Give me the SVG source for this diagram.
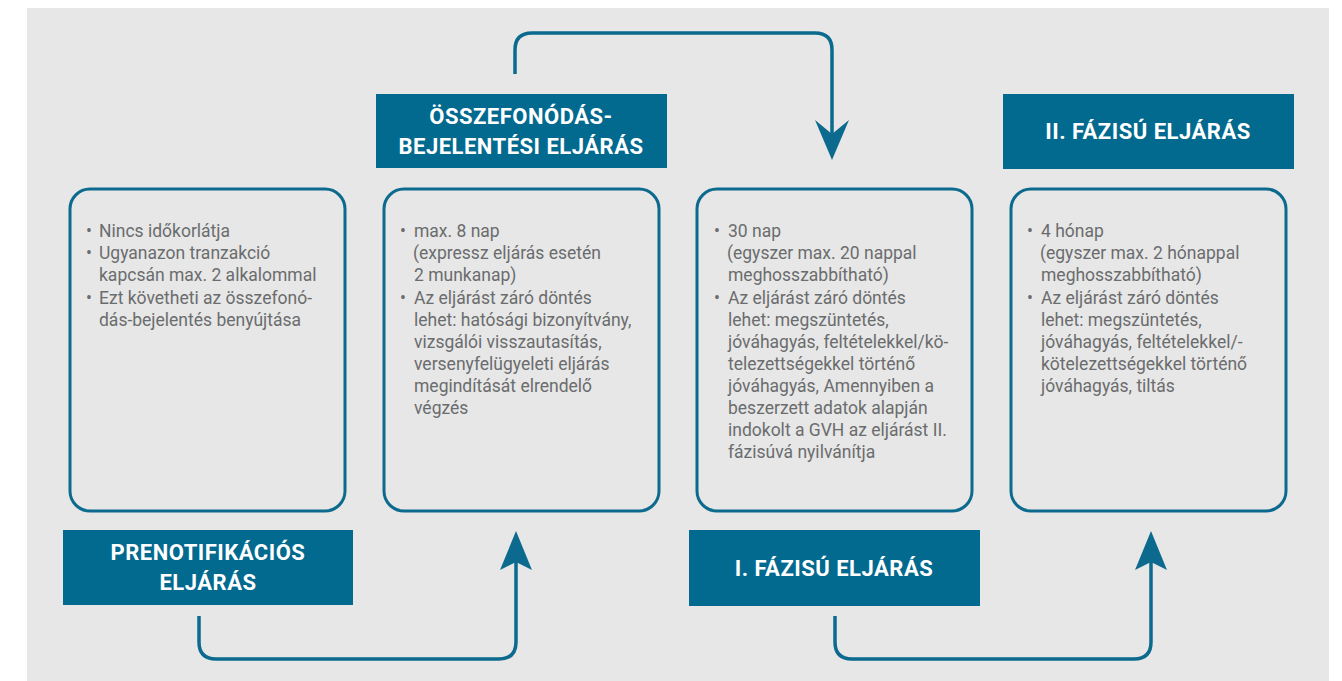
<svg xmlns="http://www.w3.org/2000/svg" width="1342" height="681" viewBox="0 0 1342 681">
<style>
.bg{fill:#e6e7e6}
.box{fill:none;stroke:#0b6a8e;stroke-width:3}
.hdr{fill:#02698f}
.ht{font-family:Roboto,"Liberation Sans",sans-serif;font-weight:700;font-size:22px;letter-spacing:0.5px;fill:#ffffff;text-anchor:middle}
.bt{font-family:Roboto,"Liberation Sans",sans-serif;font-size:17.5px;fill:#6b6c6e}
.con{fill:none;stroke:#0b6a8e;stroke-width:3.5}
.ah{fill:#0b6a8e}
</style>
<rect class="bg" x="27" y="8" width="1302" height="673"/>

<g id="node-prenotif">
<rect class="box" x="70" y="189" width="275" height="322" rx="20"/>
<text class="bt"><tspan x="86" y="237">•</tspan><tspan x="99" y="237">Nincs időkorlátja</tspan><tspan x="86" y="259">•</tspan><tspan x="99" y="259">Ugyanazon tranzakció</tspan><tspan x="99" y="281">kapcsán max. 2 alkalommal</tspan><tspan x="86" y="304">•</tspan><tspan x="99" y="304">Ezt követheti az összefonó-</tspan><tspan x="99" y="326">dás-bejelentés benyújtása</tspan></text>
<rect class="hdr" x="63" y="530" width="290" height="75"/>
<text class="ht"><tspan x="208" y="560">PRENOTIFIKÁCIÓS</tspan><tspan x="208" y="590">ELJÁRÁS</tspan></text>
</g>

<g id="node-osszefonodas">
<rect class="hdr" x="376" y="94" width="291" height="74"/>
<text class="ht"><tspan x="521" y="124">ÖSSZEFONÓDÁS-</tspan><tspan x="521" y="154">BEJELENTÉSI ELJÁRÁS</tspan></text>
<rect class="box" x="384" y="189" width="275" height="322" rx="20"/>
<text class="bt"><tspan x="400" y="237">•</tspan><tspan x="414" y="237">max. 8 nap</tspan><tspan x="413" y="259">(expressz eljárás esetén</tspan><tspan x="414" y="281">2 munkanap)</tspan><tspan x="400" y="304">•</tspan><tspan x="414" y="304">Az eljárást záró döntés</tspan><tspan x="414" y="326">lehet: hatósági bizonyítvány,</tspan><tspan x="414" y="348">vizsgálói visszautasítás,</tspan><tspan x="414" y="370">versenyfelügyeleti eljárás</tspan><tspan x="414" y="392">megindítását elrendelő</tspan><tspan x="414" y="414">végzés</tspan></text>
</g>

<g id="node-fazis1">
<rect class="box" x="697" y="189" width="275" height="322" rx="20"/>
<text class="bt"><tspan x="714" y="237">•</tspan><tspan x="728" y="237">30 nap</tspan><tspan x="727" y="259">(egyszer max. 20 nappal</tspan><tspan x="728" y="281">meghosszabbítható)</tspan><tspan x="714" y="304">•</tspan><tspan x="728" y="304">Az eljárást záró döntés</tspan><tspan x="728" y="326">lehet: megszüntetés,</tspan><tspan x="728" y="348">jóváhagyás, feltételekkel/kö-</tspan><tspan x="728" y="370">telezettségekkel történő</tspan><tspan x="728" y="392">jóváhagyás, Amennyiben a</tspan><tspan x="728" y="414">beszerzett adatok alapján</tspan><tspan x="728" y="436">indokolt a GVH az eljárást II.</tspan><tspan x="728" y="458">fázisúvá nyilvánítja</tspan></text>
<rect class="hdr" x="689" y="530" width="291" height="76"/>
<text class="ht"><tspan x="834" y="576">I. FÁZISÚ ELJÁRÁS</tspan></text>
</g>

<g id="node-fazis2">
<rect class="hdr" x="1003" y="94" width="291" height="75"/>
<text class="ht"><tspan x="1148" y="139">II. FÁZISÚ ELJÁRÁS</tspan></text>
<rect class="box" x="1011" y="189" width="275" height="322" rx="20"/>
<text class="bt"><tspan x="1027" y="237">•</tspan><tspan x="1041" y="237">4 hónap</tspan><tspan x="1040" y="259">(egyszer max. 2 hónappal</tspan><tspan x="1041" y="281">meghosszabbítható)</tspan><tspan x="1027" y="304">•</tspan><tspan x="1041" y="304">Az eljárást záró döntés</tspan><tspan x="1041" y="326">lehet: megszüntetés,</tspan><tspan x="1041" y="348">jóváhagyás, feltételekkel/-</tspan><tspan x="1041" y="370">kötelezettségekkel történő</tspan><tspan x="1041" y="392">jóváhagyás, tiltás</tspan></text>
</g>

<g id="connectors">
<path class="con" d="M515,74 V50 Q515,33 532,33 H815 Q832,33 832,50 V140"/>
<polygon class="ah" points="832,160 815,120 832,134 849,120"/>
<path class="con" d="M199,616 V642 Q199,659 216,659 H499 Q516,659 516,642 V555"/>
<polygon class="ah" points="516,531 500,570 516,562 532,570"/>
<path class="con" d="M835,616 V642 Q835,659 852,659 H1134 Q1151,659 1151,642 V555"/>
<polygon class="ah" points="1151,531 1135,570 1151,562 1167,570"/>
</g>
</svg>
